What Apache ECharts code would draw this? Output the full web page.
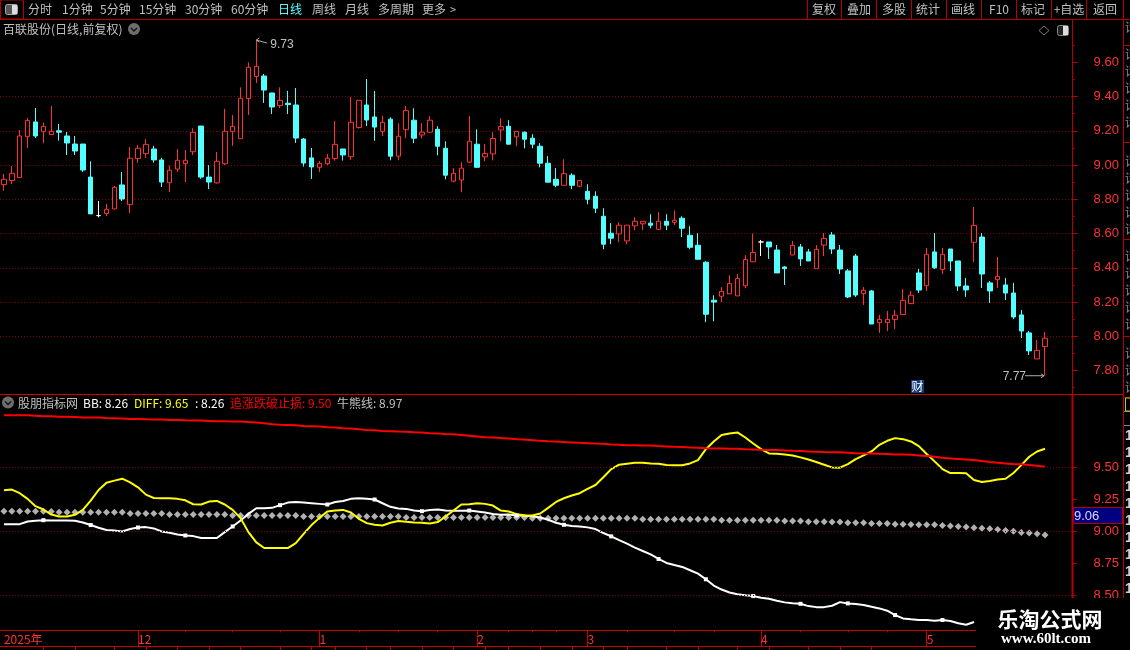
<!DOCTYPE html>
<html><head><meta charset="utf-8">
<style>html,body{margin:0;padding:0;background:#000;overflow:hidden}#c{width:1130px;height:650px}</style>
<script src="https://cdn.jsdelivr.net/npm/echarts@6/dist/echarts.min.js"></script>
</head><body><div id="c"></div>
<script>
const opens=[8.886,8.91,8.927,9.166,9.252,9.195,9.178,9.2,9.17,9.123,
9.123,8.93,8.705,8.717,8.744,8.884,8.769,9.038,9.067,9.094,
9.03,8.897,8.977,9.008,9.078,9.228,8.93,8.896,9.008,9.197,
9.154,9.388,9.518,9.52,9.421,9.347,9.361,9.351,9.152,9.042,
8.987,9.008,9.038,9.094,9.049,9.219,9.351,9.281,9.197,9.268,
9.052,9.207,9.262,9.176,9.192,9.209,9.098,8.906,8.913,9.017,
9.122,9.048,9.065,9.205,9.227,9.165,9.192,9.157,9.11,9.011,
8.917,8.882,8.941,8.877,8.847,8.818,8.701,8.602,8.598,8.557,
8.645,8.657,8.661,8.625,8.672,8.666,8.69,8.59,8.532,8.433,
8.211,8.234,8.248,8.236,8.295,8.435,8.551,8.551,8.504,8.405,
8.475,8.522,8.493,8.395,8.533,8.592,8.504,8.382,8.469,8.249,
8.265,8.08,8.08,8.099,8.127,8.191,8.37,8.296,8.493,8.39,
8.51,8.44,8.294,8.549,8.58,8.312,8.331,8.3,8.253,8.125,
8.02,7.868,7.94];
const closes=[8.917,8.952,9.17,9.261,9.17,9.226,9.197,9.192,9.129,9.082,
8.971,8.715,8.705,8.742,8.87,8.802,9.04,9.098,9.121,9.03,
8.901,8.97,9.028,9.028,9.191,8.93,8.901,9.022,9.197,9.226,
9.39,9.571,9.577,9.438,9.339,9.378,9.353,9.158,9.012,8.989,
9.01,9.04,9.121,9.059,9.25,9.378,9.263,9.222,9.25,9.052,
9.168,9.318,9.157,9.192,9.262,9.11,8.941,8.952,8.982,9.139,
8.987,9.067,9.155,9.225,9.122,9.196,9.151,9.122,9.011,8.9,
8.882,8.95,8.882,8.91,8.8,8.748,8.538,8.573,8.649,8.649,
8.672,8.672,8.649,8.672,8.649,8.678,8.631,8.52,8.45,8.129,
8.2,8.262,8.308,8.337,8.448,8.489,8.551,8.522,8.37,8.395,
8.531,8.452,8.44,8.508,8.572,8.51,8.393,8.23,8.241,8.269,
8.072,8.099,8.099,8.123,8.21,8.24,8.27,8.479,8.4,8.479,
8.44,8.294,8.271,8.648,8.364,8.265,8.35,8.253,8.113,8.031,
7.915,7.918,7.989];
const lows=[8.851,8.89,8.925,9.10,9.158,9.127,9.175,9.143,9.059,9.059,
8.96,8.715,8.695,8.703,8.742,8.79,8.72,9.014,9.042,9.014,
8.872,8.843,8.96,8.901,9.059,8.92,8.86,8.892,9.0,9.112,
9.154,9.293,9.479,9.363,9.298,9.333,9.298,9.129,8.991,8.919,
8.96,9.0,9.026,9.026,9.03,9.213,9.228,9.141,9.17,9.028,
9.028,9.157,9.128,9.157,9.19,9.058,8.917,8.9,8.842,9.011,
8.987,9.022,9.028,9.139,9.12,9.11,9.098,9.098,8.987,8.9,
8.87,8.88,8.859,8.87,8.771,8.719,8.509,8.538,8.55,8.538,
8.62,8.62,8.631,8.62,8.62,8.649,8.579,8.509,8.45,8.083,
8.088,8.2,8.248,8.236,8.281,8.435,8.469,8.452,8.37,8.3,
8.475,8.411,8.44,8.395,8.469,8.481,8.364,8.224,8.23,8.183,
8.072,8.02,8.031,8.043,8.127,8.19,8.253,8.265,8.393,8.364,
8.382,8.265,8.23,8.434,8.282,8.195,8.282,8.212,8.101,7.99,
7.891,7.868,7.77];
const highs=[8.948,8.995,9.205,9.275,9.333,9.248,9.345,9.24,9.193,9.17,
9.123,9.022,8.79,8.773,8.878,8.96,9.106,9.117,9.152,9.112,
9.042,8.997,9.094,9.088,9.215,9.228,9.0,9.077,9.328,9.293,
9.454,9.60,9.73,9.532,9.421,9.454,9.433,9.45,9.158,9.1,
9.024,9.065,9.258,9.094,9.398,9.378,9.503,9.433,9.287,9.279,
9.244,9.344,9.332,9.244,9.285,9.227,9.139,8.982,9.017,9.285,
9.209,9.122,9.192,9.274,9.262,9.196,9.196,9.18,9.128,9.052,
8.982,9.034,8.952,8.91,8.888,8.847,8.748,8.661,8.666,8.649,
8.696,8.672,8.713,8.725,8.713,8.736,8.701,8.643,8.602,8.439,
8.24,8.287,8.357,8.363,8.474,8.6,8.563,8.551,8.533,8.41,
8.557,8.539,8.51,8.533,8.603,8.609,8.533,8.393,8.481,8.288,
8.271,8.125,8.148,8.154,8.277,8.265,8.393,8.516,8.603,8.516,
8.51,8.44,8.341,8.755,8.603,8.323,8.463,8.341,8.312,8.154,
8.031,7.979,8.025];
const stopLoss=[9.903,9.903,9.903,9.903,9.900,9.895,9.895,9.892,9.892,9.890,
9.885,9.885,9.885,9.882,9.880,9.877,9.874,9.874,9.872,9.869,
9.869,9.867,9.867,9.864,9.862,9.862,9.859,9.856,9.856,9.854,
9.854,9.851,9.846,9.841,9.833,9.830,9.828,9.825,9.820,9.818,
9.815,9.810,9.807,9.802,9.799,9.794,9.789,9.786,9.781,9.779,
9.776,9.774,9.771,9.769,9.763,9.761,9.758,9.756,9.750,9.743,
9.738,9.732,9.730,9.725,9.722,9.717,9.714,9.709,9.704,9.701,
9.699,9.694,9.691,9.688,9.686,9.683,9.681,9.676,9.673,9.670,
9.670,9.668,9.668,9.663,9.660,9.657,9.655,9.652,9.650,9.647,
9.645,9.645,9.642,9.642,9.639,9.637,9.634,9.632,9.632,9.629,
9.626,9.624,9.621,9.619,9.616,9.614,9.614,9.611,9.608,9.606,
9.606,9.603,9.601,9.598,9.598,9.595,9.590,9.585,9.580,9.572,
9.567,9.562,9.559,9.554,9.546,9.539,9.533,9.528,9.523,9.521,
9.515,9.510,9.502];
const diff=[9.319,9.324,9.296,9.252,9.195,9.169,9.130,9.115,9.115,9.128,
9.166,9.239,9.321,9.378,9.394,9.409,9.381,9.342,9.285,9.259,
9.257,9.257,9.252,9.241,9.210,9.208,9.231,9.236,9.208,9.166,
9.102,8.993,8.913,8.869,8.869,8.869,8.869,8.908,8.980,9.048,
9.104,9.153,9.161,9.166,9.146,9.097,9.063,9.050,9.045,9.066,
9.079,9.073,9.068,9.066,9.061,9.071,9.115,9.161,9.208,9.210,
9.218,9.213,9.200,9.161,9.154,9.133,9.125,9.123,9.138,9.182,
9.228,9.257,9.278,9.296,9.329,9.360,9.420,9.484,9.518,9.526,
9.533,9.533,9.528,9.526,9.515,9.513,9.513,9.528,9.554,9.639,
9.699,9.750,9.761,9.769,9.730,9.683,9.639,9.606,9.603,9.598,
9.590,9.575,9.559,9.539,9.518,9.497,9.495,9.523,9.562,9.590,
9.621,9.673,9.704,9.725,9.717,9.699,9.663,9.601,9.544,9.484,
9.453,9.453,9.451,9.399,9.384,9.391,9.402,9.409,9.453,9.515,
9.580,9.621,9.642];
const bb=[9.055,9.055,9.055,9.076,9.081,9.086,9.084,9.084,9.084,9.081,
9.068,9.048,9.027,9.009,9.006,8.998,9.017,9.029,9.032,9.022,
8.998,8.988,8.975,8.967,8.962,8.947,8.947,8.947,8.993,9.037,
9.084,9.135,9.179,9.179,9.182,9.203,9.223,9.228,9.223,9.218,
9.213,9.208,9.228,9.236,9.252,9.257,9.252,9.247,9.218,9.190,
9.177,9.174,9.161,9.156,9.166,9.169,9.161,9.159,9.159,9.161,
9.154,9.146,9.135,9.128,9.130,9.123,9.120,9.117,9.107,9.089,
9.066,9.050,9.040,9.037,9.030,9.017,8.986,8.960,8.931,8.903,
8.872,8.846,8.820,8.784,8.753,8.737,8.722,8.696,8.670,8.626,
8.577,8.546,8.523,8.510,8.502,8.495,8.482,8.474,8.459,8.446,
8.440,8.435,8.417,8.409,8.409,8.420,8.448,8.438,8.433,8.425,
8.412,8.399,8.381,8.347,8.321,8.314,8.309,8.309,8.303,8.309,
8.301,8.283,8.272,8.293,null,null,null,null,null,null,
null,null,null];
const bullBear=[9.156,9.156,9.156,9.156,9.156,9.156,9.153,9.148,9.148,9.148,
9.148,9.148,9.148,9.148,9.148,9.148,9.138,9.138,9.138,9.138,
9.138,9.130,9.130,9.130,9.130,9.130,9.130,9.130,9.130,9.122,
9.122,9.122,9.122,9.122,9.122,9.122,9.122,9.122,9.115,9.115,
9.115,9.115,9.115,9.115,9.115,9.115,9.115,9.115,9.115,9.115,
9.115,9.107,9.107,9.107,9.107,9.107,9.107,9.107,9.107,9.107,
9.107,9.107,9.107,9.107,9.107,9.107,9.107,9.102,9.102,9.102,
9.102,9.102,9.102,9.102,9.102,9.102,9.102,9.102,9.102,9.102,
9.102,9.094,9.094,9.094,9.094,9.094,9.094,9.094,9.094,9.094,
9.094,9.086,9.086,9.086,9.086,9.086,9.086,9.086,9.086,9.079,
9.079,9.079,9.073,9.073,9.073,9.071,9.071,9.066,9.066,9.066,
9.061,9.061,9.061,9.055,9.055,9.053,9.050,9.050,9.050,9.045,
9.040,9.037,9.032,9.027,9.024,9.019,9.014,9.006,8.999,8.991,
8.986,8.980,8.970];
const monthIdx=[0,17,40,60,74,96,117];
const monthNames=['2025年','12','1','2','3','4','5'];
const weekTicksTop=[23,29,35,45,50,55,64,67,70,79,85,90,101,107,112];
const weekTicksBottom=[5,9,14,18,22,26,30,35,39,42,46,49,53,57,61,64,68,72,76,79,84,88,93,97,102,106,110];
const priceTicks=[7.8,8.0,8.2,8.4,8.6,8.8,9.0,9.2,9.4,9.6];
const indicatorLabels=[8.5,8.75,9.0,9.25,9.5];
const indicatorGrid=[8.5,9.0,9.5];
const toolbarLeft=[['分时',28,'#c0c0c0'],['1分钟',62,'#c0c0c0'],['5分钟',100,'#c0c0c0'],['15分钟',139,'#c0c0c0'],['30分钟',185,'#c0c0c0'],['60分钟',231,'#c0c0c0'],['日线',278,'#54ffff'],['周线',312,'#c0c0c0'],['月线',345,'#c0c0c0'],['多周期',378,'#c0c0c0'],['更多',422,'#c0c0c0']];
const toolbarRight=[['复权',824],['叠加',859],['多股',894],['统计',928],['画线',963],['F10',999],['标记',1033],['+自选',1069],['返回',1105]];
const toolbarSeps=[807,841,876,911,946,981,1016,1051,1086,1123];

const RED='#ff3232',CYAN='#54ffff',FRAME='#b40000',GRAY='#c0c0c0';
const CJK='"Noto Sans CJK SC","Liberation Sans",sans-serif';
const N=136; // three empty slots to the right of the last bar
const cats=[];for(let i=0;i<N;i++){const k=monthIdx.indexOf(i);cats.push(k>=0?monthNames[k]:'');}
const idx=cats.map((_,i)=>String(i));
const candle=opens.map((o,i)=>[o,closes[i],lows[i],highs[i]]);
const dotted={color:'#7c0000',width:1,type:[1,2]};

const chart=echarts.init(document.getElementById('c'),null,{width:1130,height:650});
chart.setOption({
 animation:false,backgroundColor:'#000',
 grid:[{left:-0.6,top:28.08,width:1073.2,height:376.75,containLabel:false},
       {left:-0.6,top:402.8,width:1073.2,height:224.75,containLabel:false}],
 xAxis:[
  {type:'category',gridIndex:0,data:idx,show:false},
  {type:'category',gridIndex:1,data:cats,position:'bottom',offset:2.75,
   axisLine:{show:true,lineStyle:{color:'#c80000',width:1}},
   axisTick:{show:true,alignWithLabel:true,length:16,lineStyle:{color:'#c80000'},interval:(i)=>i>0&&monthIdx.includes(i)},
   axisLabel:{show:true,interval:(i)=>monthIdx.includes(i),color:RED,align:'left',margin:3,padding:[0,0,0,0],fontSize:12,fontFamily:CJK,hideOverlap:false},
   splitLine:{show:false}},
  {type:'category',gridIndex:1,data:idx,position:'bottom',offset:2.75,
   axisLine:{show:false},axisLabel:{show:false},splitLine:{show:false},
   axisTick:{show:true,alignWithLabel:true,length:2,lineStyle:{color:'#c80000'},interval:(i)=>weekTicksTop.includes(i)}},
  {type:'category',gridIndex:1,data:idx,position:'bottom',offset:18.75,
   axisLine:{show:true,lineStyle:{color:'#c80000'}},axisLabel:{show:false},splitLine:{show:false},
   axisTick:{show:true,alignWithLabel:true,length:4,lineStyle:{color:'#c80000'},interval:(i)=>weekTicksBottom.includes(i)}}
 ],
 yAxis:[
  {type:'value',gridIndex:0,position:'right',min:7.6,max:9.8,interval:0.2,scale:true,
   axisLine:{show:false},
   axisTick:{show:true,length:5,customValues:priceTicks,lineStyle:{color:FRAME}},
   minorTick:{show:true,splitNumber:2,length:2,lineStyle:{color:FRAME}},
   axisLabel:{show:true,customValues:priceTicks,color:RED,margin:21,fontSize:13,fontFamily:'"Liberation Sans",sans-serif',formatter:(v)=>v.toFixed(2)},
   splitLine:{show:true,showMinLine:false,showMaxLine:false,lineStyle:dotted}},
  {type:'value',gridIndex:1,position:'right',min:8.25,max:10,interval:0.25,scale:true,
   axisLine:{show:false},
   axisTick:{show:true,length:4,customValues:indicatorLabels,lineStyle:{color:FRAME}},
   axisLabel:{show:true,customValues:indicatorLabels,color:RED,margin:21,fontSize:13,fontFamily:'"Liberation Sans",sans-serif',formatter:(v)=>v.toFixed(2)},
   splitLine:{show:false}}
 ],
 series:[
  {name:'K',type:'candlestick',xAxisIndex:0,yAxisIndex:0,data:candle,barWidth:5,
   itemStyle:{color:'#000',color0:CYAN,borderColor:RED,borderColor0:CYAN,borderColorDoji:'#ffffff',borderWidth:1}},
  {name:'牛熊线',type:'scatter',xAxisIndex:1,yAxisIndex:1,data:bullBear,symbol:'diamond',symbolSize:7,
   itemStyle:{color:'#dcdcdc'},
   markLine:{silent:true,symbol:'none',label:{show:false},lineStyle:dotted,data:indicatorGrid.map(v=>({yAxis:v}))}},
  {name:'BB',type:'line',xAxisIndex:1,yAxisIndex:1,data:bb,connectNulls:false,lineStyle:{color:'#fff',width:2},itemStyle:{color:'#fff'},
   showSymbol:true,showAllSymbol:true,symbol:'rect',symbolSize:(v,p)=>(p.dataIndex%6===5?4:0)},
  {name:'DIFF',type:'line',xAxisIndex:1,yAxisIndex:1,data:diff,showSymbol:false,lineStyle:{color:'#ffff00',width:2}},
  {name:'追涨跌破止损',type:'line',xAxisIndex:1,yAxisIndex:1,data:stopLoss,showSymbol:false,lineStyle:{color:'#ff0000',width:2}}
 ]
});

function ln(x1,y1,x2,y2,c,w,z){return {type:'line',silent:true,z:z||50,shape:{x1,y1,x2,y2},style:{stroke:c||FRAME,lineWidth:w||1}};}
function tx(x,y,text,fill,o){o=o||{};return {type:'text',silent:true,z:o.z||60,style:{x,y,text,fill,font:(o.weight||'normal')+' '+(o.size||12)+'px '+(o.family||CJK),textAlign:o.align||'left',textVerticalAlign:'middle'}};}
function rc(x,y,w,h,f,s,z,r){return {type:'rect',silent:true,z:z||55,shape:{x,y,width:w,height:h,r:r||0},style:{fill:f||'none',stroke:s||null,lineWidth:1}};}
function chev(cx,cy){return [{type:'circle',silent:true,z:60,shape:{cx,cy,r:6},style:{fill:'#6e6e6e'}},
 {type:'polyline',silent:true,z:61,shape:{points:[[cx-3,cy-1],[cx,cy+2],[cx+3,cy-1]]},style:{stroke:'#111',lineWidth:1.4,fill:'none'}}];}
const g=[];
// frame
g.push(ln(0,19.5,1130,19.5));
g.push(ln(0,394.5,1123,394.5,'#d00000',1));
g.push(ln(1072.5,19,1072.5,394,FRAME,1));
g.push(ln(1072.5,394,1072.5,646,FRAME,2));
g.push(ln(1123.5,19,1123.5,640,FRAME,1));
g.push(ln(1124,45.5,1130,45.5));g.push(ln(1124,142.5,1130,142.5));g.push(ln(1124,239.5,1130,239.5));g.push(ln(1124,336.5,1130,336.5));
g.push(ln(1124,397.5,1130,397.5));g.push(ln(1124,411.5,1130,411.5,'#888'));g.push(ln(1124,425.5,1130,425.5,'#888'));
g.push(rc(1125.5,398,5,13,'none','#c8c800'));
// toolbar
g.push(rc(0.5,0,23,19,'none',FRAME));
g.push(rc(5.5,4.5,12,10,'#555','#aaa',56,2));g.push(rc(12,5,5,9,'#ddd',null,57));
toolbarLeft.forEach(t=>g.push(tx(t[1],9.5,t[0],t[2])));
g.push(tx(450,9.5,'>',GRAY,{size:11}));
toolbarRight.forEach(t=>g.push(tx(t[1],9.5,t[0],GRAY,{align:'center'})));
toolbarSeps.forEach(x=>g.push(ln(x+.5,0,x+.5,19)));
// title rows
g.push(tx(3,29,'百联股份(日线,前复权)',GRAY));
g.push(...chev(134,29));
g.push({type:'polygon',silent:true,z:60,shape:{points:[[1044,26],[1049,30.5],[1044,35],[1039,30.5]]},style:{fill:'none',stroke:'#777',lineWidth:1}});
g.push(rc(1057.5,25.5,11,10,'#222','#888',56,2));g.push(rc(1063,26,5,9,'#ddd',null,57));
g.push(...chev(8,402.5));
g.push(tx(18,403,'股朋指标网',GRAY));
g.push(tx(83,403,'BB: 8.26','#ffffff'));
g.push(tx(134,403,'DIFF: 9.65','#ffff00'));
g.push(tx(195,403,': 8.26','#ffffff'));
g.push(tx(230,403,'追涨跌破止损: 9.50','#ff0000'));
g.push(tx(337,403,'牛熊线: 8.97',GRAY));
// high / low annotations anchored to the data
const pHi=chart.convertToPixel({gridIndex:0},[32,highs[32]]);
const pLo=chart.convertToPixel({gridIndex:0},[132,lows[132]]);
g.push({type:'polyline',silent:true,z:60,shape:{points:[[pHi[0]+3,pHi[1]-2],[pHi[0],pHi[1]],[pHi[0]+3,pHi[1]+2]]},style:{stroke:'#aaa',fill:'none'}});
g.push(ln(pHi[0],pHi[1],pHi[0]+11,pHi[1]+3,'#aaa',1,60));
g.push(tx(pHi[0]+14,pHi[1]+4.5,'9.73',GRAY,{family:'"Liberation Sans",sans-serif'}));
g.push(ln(pLo[0]-20,pLo[1],pLo[0]-1,pLo[1],'#aaa',1,60));
g.push({type:'polyline',silent:true,z:60,shape:{points:[[pLo[0]-4,pLo[1]-2],[pLo[0]-1,pLo[1]],[pLo[0]-4,pLo[1]+2]]},style:{stroke:'#aaa',fill:'none'}});
g.push(tx(pLo[0]-19,pLo[1]+0.5,'7.77',GRAY,{align:'right',family:'"Liberation Sans",sans-serif'}));
// 财 badge
g.push(rc(911,380,13,13,'#123c78',null,56));
g.push(tx(917.5,386.5,'财','#ffffff',{align:'center'}));
// value tag
g.push(rc(1073.5,507.5,49,16,'#000080',FRAME,56));
g.push(tx(1074,516,'9.06','#d8d8ff',{family:'"Liberation Sans",sans-serif',size:13}));
// right clipped strip
[27,54,71,88,105,122,161,178,195,212,229,256,273,290,307,324,353,370,387].forEach(y=>g.push(tx(1125,y,'话','#8a8a8a')));
[436,453,470,487,504,521,538,555,572,589].forEach(y=>g.push(tx(1125,y,'1','#d0d0d0',{weight:'bold',size:14,family:'"Liberation Sans",sans-serif'})));
// watermark
g.push(rc(976,598,154,52,'#000',null,200));
g.push(tx(1050,619,'乐淘公式网','#ffffff',{z:201,align:'center',size:21,weight:'bold'}));
g.push(tx(1046,639,'www.60lt.com','#ffffff',{z:201,align:'center',size:15,weight:'bold',family:'"Liberation Serif",serif'}));
chart.setOption({graphic:{elements:g}});
</script></body></html>
